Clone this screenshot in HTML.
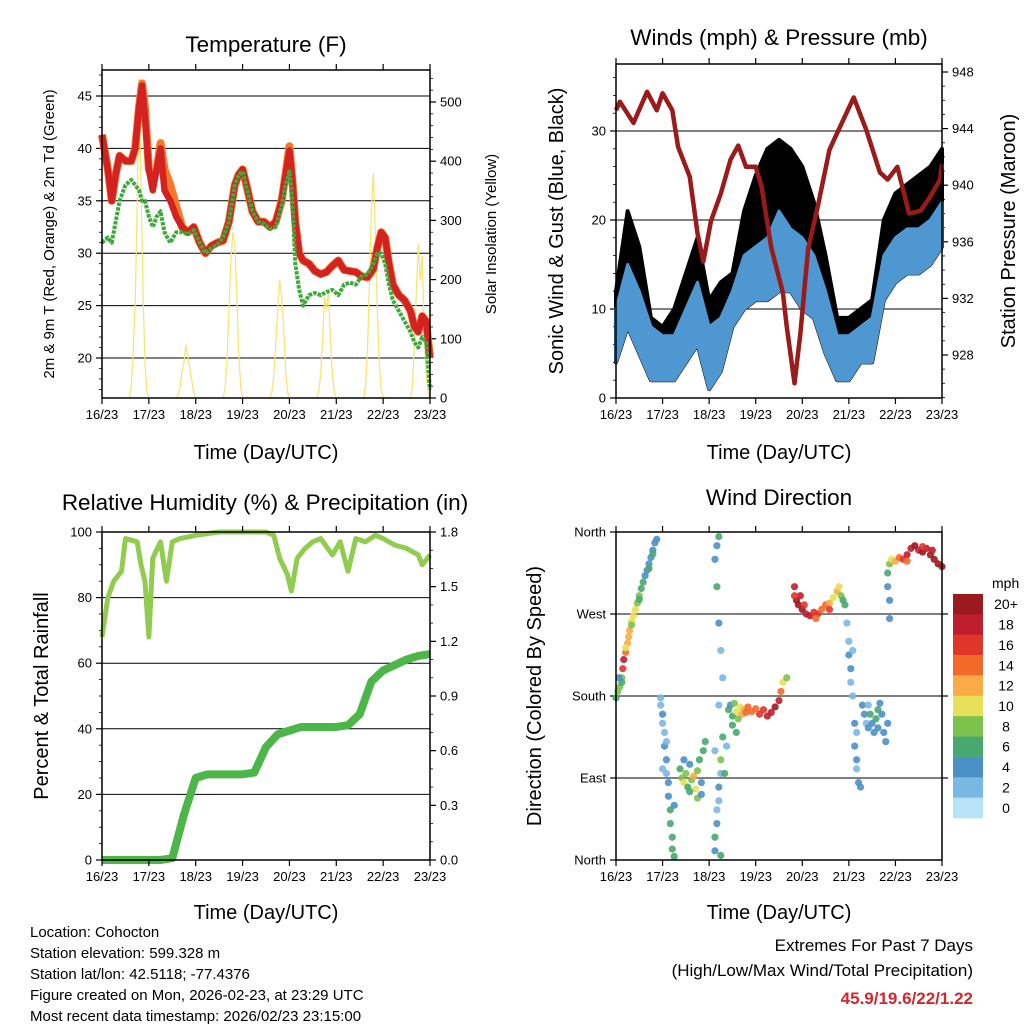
<!DOCTYPE html>
<html><head><meta charset="utf-8"><title>Cohocton station charts</title>
<style>
html,body{margin:0;padding:0;background:#fff;}
svg{display:block;font-family:"Liberation Sans",Arial,sans-serif;}
</style></head>
<body>
<svg id="root" xmlns="http://www.w3.org/2000/svg" width="1024" height="1024" viewBox="0 0 1024 1024">
<rect x="0" y="0" width="1024" height="1024" fill="#fff"/>
<text x="266" y="52" font-size="22.5" text-anchor="middle">Temperature (F)</text>
<text x="779" y="45" font-size="22.5" text-anchor="middle">Winds (mph) &amp; Pressure (mb)</text>
<text x="265" y="510" font-size="22.5" text-anchor="middle">Relative Humidity (%) &amp; Precipitation (in)</text>
<text x="779" y="505" font-size="22.5" text-anchor="middle">Wind Direction</text>
<text transform="translate(54,234) rotate(-90)" font-size="15" text-anchor="middle">2m &amp; 9m T (Red, Orange) &amp; 2m Td (Green)</text>
<text transform="translate(496,234) rotate(-90)" font-size="15" text-anchor="middle">Solar Insolation (Yellow)</text>
<text transform="translate(563,231) rotate(-90)" font-size="20" text-anchor="middle">Sonic Wind &amp; Gust (Blue, Black)</text>
<text transform="translate(1015,231) rotate(-90)" font-size="20" text-anchor="middle">Station Pressure (Maroon)</text>
<text transform="translate(48,696) rotate(-90)" font-size="20" text-anchor="middle">Percent &amp; Total Rainfall</text>
<text transform="translate(541,696) rotate(-90)" font-size="20" text-anchor="middle">Direction (Colored By Speed)</text>
<text x="266" y="459" font-size="20" text-anchor="middle">Time (Day/UTC)</text>
<text x="779" y="459" font-size="20" text-anchor="middle">Time (Day/UTC)</text>
<text x="266" y="919" font-size="20" text-anchor="middle">Time (Day/UTC)</text>
<text x="779" y="919" font-size="20" text-anchor="middle">Time (Day/UTC)</text>
<g font-size="15">
<text x="30" y="937">Location: Cohocton</text>
<text x="30" y="958">Station elevation: 599.328 m</text>
<text x="30" y="979">Station lat/lon: 42.5118; -77.4376</text>
<text x="30" y="1000">Figure created on Mon, 2026-02-23, at 23:29 UTC</text>
<text x="30" y="1021">Most recent data timestamp: 2026/02/23 23:15:00</text>
</g>
<g font-size="17" text-anchor="end">
<text x="973" y="951">Extremes For Past 7 Days</text>
<text x="973" y="976">(High/Low/Max Wind/Total Precipitation)</text>
<text x="973" y="1004" font-weight="bold" fill="#d0282c">45.9/19.6/22/1.22</text>
</g>
</svg>
<script>
// ---------------- DATA ----------------
const dayLabels = ["16/23","17/23","18/23","19/23","20/23","21/23","22/23","23/23"];
const tempTimes = [0,3,5,7,9,12,15,17,19,20.5,22,24,26,28,30,32,35,38,41,44,47,50,53,56,59,62,65,68,70,72,74,77,80,83,86,89,92,94,96,97.5,99,101,103,106,109,112,115,118,121,124,127,130,133,136,139,141,143,145,147,149,152,155,158,160,162,164,166,168];
const tempRed = [41.3,38,35,37.5,39.3,38.8,38.8,40,44,46,43,38,36,38,40,36,35,33.5,32.5,32,32.5,31,30,30.7,31,31.2,33,36.5,37.5,38,36.5,34,33,33,32.5,33,35,37.5,39.8,37,33,30,29.3,29,28.3,28,28.2,28.8,29.3,28.4,28.3,28.2,27.8,27.7,28.5,30.5,32,31.5,29,27,26,25.5,24.5,23,22.5,24,23.5,20];
const tempOrange = [41.3,38,35,37.5,39.3,38.8,38.8,40,44,46.2,44,38,37,38,40.5,38,36.5,34.5,32.5,32,32.5,31,30,30.7,31,31.2,33,36.5,37.5,38,36.5,34,33,33,32.5,33,35,37.5,40.2,37,33,30,29.3,29,28.3,28,28.2,28.8,29.3,28.4,28.3,28.2,27.8,27.7,28.5,30.5,32,31.5,29,27,26,25.5,24.5,23,22.5,24,23.5,20];
const tempDew = [31,31.5,31,33,35,36.5,37,36.5,36,35,35,33.5,32.5,33.5,34,32,31,32,32,31.8,32.2,31,30,30.5,30.8,31.5,33,36.5,37.5,37.8,36.3,34,33,32.8,32.3,32.5,34.5,36.5,37.8,35,29,26.5,25,26,26.2,26,26.3,26.5,26,27,27.2,27,27.8,28,29,30,30,29,27,25.5,24.5,23.5,22.5,21.5,21,22,21.5,17];
const solarStartHour = 14;
const solarDay0 = [0,20,80,160,320,540,360,180,60,10,0];
const solarDay1 = [0,5,20,45,60,90,70,50,30,10,0];
const solarDay2 = [0,15,60,150,230,280,260,180,80,20,0];
const solarDay3 = [0,10,40,90,150,200,170,120,50,10,0];
const solarDay4 = [0,10,40,100,170,150,180,100,40,10,0];
const solarDay5 = [0,20,80,200,320,380,280,150,60,15,0];
const solarDay6 = [0,20,90,180,260,200,240,120,40,10,0];
const windTimes = [0,6,12,18,24,30,36,42,48,54,60,66,72,78,84,90,96,102,108,114,120,126,132,138,144,150,156,162,168];
const windLow = [4,8,5,2,2,2,4,6,1,3,8,10,11,11,12,12,10,9,5,2,2,4,4,11,13,14,14,15,17];
const windHigh = [10,15,12,8,7,7,10,13,8,9,12,16,17,18,21,19,18,16,12,7,7,8,9,16,18,19,19,20,22];
const gustHigh = [12,21,17,9,8,10,14,18,11,13,14,21,25,28,29,28,26,22,16,9,9,10,11,20,23,24,25,26,28];
const pressTimes = [0,2,9,16,21,24,29,32,38,42,45,49,54,59,63,67,72,75,80,86,88,92,95,99,104,110,113,122.5,129,136,140,145,151,157,162,167,168];
const pressValues = [945.3,945.9,944.4,946.6,945.3,946.5,945.3,942.7,940.6,936.6,934.6,937.5,939.4,941.8,942.8,941.3,941.3,939.9,935.6,932.4,930,926,929.5,935.5,938.5,942.5,943.4,946.2,943.9,940.9,940.4,941.3,938,938.2,939.2,940.4,941.5];
const rhTimes = [0,3,6,10,12,18,20,22,24,26,30,33,36,40,48,60,72,84,88,91,95,97,100,104,108,112,118,122,126,130,135,140,144,150,156,162,164,168];
const rhValues = [68,80,85,88,98,97,90,85,68,92,97,85,97,98,99,100,100,100,99,92,87,82,92,95,97,98,93,97,88,98,97,99,98,96,95,93,90,93];
const precipTimes = [0,6,12,18,24,30,36,42,48,54,60,66,72,78,84,90,96,102,108,114,120,126,132,138,144,150,156,162,168];
const precipValues = [0,0,0,0,0,0,0.01,0.25,0.45,0.47,0.47,0.47,0.47,0.48,0.62,0.69,0.71,0.73,0.73,0.73,0.73,0.74,0.80,0.98,1.04,1.07,1.10,1.12,1.13];
const dirTimes = [0,1,2,3,3.5,4,5,6,6.5,7,8,9,10,11,12,13,14,15,16,17,18,19,20,21,3,5,8,12,1.5,17,19,
 23,23,24,24,25,25,26,26,27,27,28,28,29,29,30,24,26,30,
 33,34,35,36,37,38,39,40,41,42,43,44,45,46,38,42,35,44,
 51,51,52,52,53,53,54,54,55,55,54,53,52,51,52,53,54,51,53,
 58,59,60,61,62,63,64,65,66,67,68,70,72,74,76,78,80,82,84,85,86,60,62,88,57,56,
 92,93,94,95,96,98,100,102,104,106,108,110,112,114,115,116,117,118,92,97,103,110,
 119,120,120,121,121,122,123,123,124,124,125,126,122,124,
 127,128,129,130,131,132,133,134,135,136,137,138,139,140,130,135,
 140,140,141,142,144,146,148,150,152,154,156,158,160,162,164,166,168,141,141,150,158,163];
const dirDegrees = [178,185,190,200,210,220,228,238,245,252,262,268,275,282,290,298,305,312,318,325,332,340,348,352,195,233,258,286,200,320,336,
 178,170,160,150,140,125,110,95,85,70,55,40,25,12,4,100,130,60,
 100,90,85,95,80,105,88,92,78,98,110,85,120,130,75,68,110,72,
 10,25,40,55,65,80,95,110,135,200,230,260,300,330,345,355,5,120,170,
 165,170,158,172,163,155,168,160,165,162,168,163,166,160,165,158,162,168,175,185,195,148,140,200,125,95,
 300,285,280,290,275,270,268,272,270,275,280,282,288,295,300,290,285,280,290,280,265,275,
 260,240,225,210,195,180,150,125,110,100,85,80,230,140,
 170,160,150,145,160,150,140,155,165,172,160,140,130,150,170,145,
 300,315,325,330,328,332,330,335,342,345,340,338,342,335,330,325,322,285,265,328,344,340];
const dirSpeeds = [6,8,8,8,16,18,14,12,12,12,10,10,10,8,8,6,6,4,4,4,4,4,4,4,6,10,8,6,4,6,6,
 2,2,4,2,2,4,4,2,4,4,6,6,6,6,6,2,2,4,
 6,8,10,8,6,4,8,12,10,8,6,4,6,6,6,8,4,4,
 4,6,4,2,2,4,2,8,6,2,2,4,6,4,4,6,6,2,2,
 6,4,6,8,10,8,10,12,12,14,14,14,14,16,16,18,18,20,18,14,10,6,6,8,2,6,
 18,20,20,18,20,18,18,16,16,14,14,12,10,12,10,8,6,6,16,16,14,16,
 2,2,4,4,2,2,4,4,4,2,4,4,2,2,
 4,4,2,4,6,4,4,6,6,4,4,4,4,4,2,4,
 4,6,8,10,12,14,16,18,18,20,18,20,18,20,20,20,20,4,4,14,16,18];
const speedLabels = ["20+","18","16","14","12","10","8","6","4","2","0"];
const speedColors = ["#b7e2f7","#7ab8e4","#4a90c7","#48a96e","#7dc24c","#e8e05a","#f8ab46","#f26a2a","#e0352b","#be1e2d","#9b1a1e"];

// ---------------- HELPERS ----------------
const NS = "http://www.w3.org/2000/svg";
const root = document.getElementById("root");
function mk(tag, attrs, parent) {
  const e = document.createElementNS(NS, tag);
  for (const k in attrs) e.setAttribute(k, attrs[k]);
  (parent || root).appendChild(e);
  return e;
}
function lin(d0, d1, r0, r1) { return v => r0 + (v - d0) / (d1 - d0) * (r1 - r0); }
function pathFrom(xs, ys, fx, fy) {
  let d = "";
  for (let i = 0; i < xs.length; i++) d += (i ? "L" : "M") + fx(xs[i]).toFixed(2) + "," + fy(ys[i]).toFixed(2);
  return d;
}
function bandFrom(xs, lo, hi, fx, fy) {
  let d = "";
  for (let i = 0; i < xs.length; i++) d += (i ? "L" : "M") + fx(xs[i]).toFixed(2) + "," + fy(hi[i]).toFixed(2);
  for (let i = xs.length - 1; i >= 0; i--) d += "L" + fx(xs[i]).toFixed(2) + "," + fy(lo[i]).toFixed(2);
  return d + "Z";
}
function frame(name, x0, y0, x1, y1) {
  const r = mk("rect", {x: x0, y: y0, width: x1 - x0, height: y1 - y0, fill: "none", stroke: "#000", "stroke-width": 1.5});
  
  
}
function xAxis(name, fx, y0, y1) {
  const g = mk("g", {});
  
  
  for (let d = 0; d < dayLabels.length; d++) {
    const x = fx(d * 24);
    mk("line", {x1: x, x2: x, y1: y1, y2: y1 + 6, stroke: "#000", "stroke-width": 1.2}, g);
    mk("line", {x1: x, x2: x, y1: y0, y2: y0 - 6, stroke: "#000", "stroke-width": 1.2}, g);
    const t = mk("text", {x: x, y: y1 + 21, "font-size": 13, "text-anchor": "middle"}, g);
    t.textContent = dayLabels[d];
    
    
  }
}
function yAxis(name, fy, x0, x1, ticks, labels, minorStep, lo, hi, side, grid, x0grid, x1grid) {
  const g = mk("g", {});
  
  
  const ax = side === "left" ? x0 : x1, dir = side === "left" ? -1 : 1;
  if (minorStep) {
    for (let v = lo; v <= hi + 1e-9; v += minorStep) {
      const y = fy(v);
      mk("line", {x1: ax, x2: ax + dir * 3, y1: y, y2: y, stroke: "#000", "stroke-width": 0.8}, g);
    }
  }
  for (let i = 0; i < ticks.length; i++) {
    const y = fy(ticks[i]);
    mk("line", {x1: ax, x2: ax + dir * 6, y1: y, y2: y, stroke: "#000", "stroke-width": 1.2}, g);
    if (grid) mk("line", {x1: x0grid, x2: x1grid, y1: y, y2: y, stroke: "#000", "stroke-width": 1}, g);
    const t = mk("text", {x: ax + dir * 10, y: y + 4.5, "font-size": 13, "text-anchor": side === "left" ? "end" : "start"}, g);
    t.textContent = labels[i];
    
    
  }
}

// ---------------- PANEL 1: TEMPERATURE ----------------
(function(){
  const X0 = 102, X1 = 430, Y0 = 70, Y1 = 398;
  const fx = lin(0, 168, X0, X1);
  const fy = lin(20, 45, 358, 96);
  const fs = lin(0, 500, 398, 102);
  yAxis("temperature", fy, X0, X1, [20,25,30,35,40,45], ["20","25","30","35","40","45"], 1, 17, 47, "left", true, X0, X1);
  yAxis("solar", fs, X0, X1, [0,100,200,300,400,500], ["0","100","200","300","400","500"], 20, 0, 540, "right", false);
  const days = [solarDay0, solarDay1, solarDay2, solarDay3, solarDay4, solarDay5, solarDay6];
  const sg = mk("g", {});
  
  
  for (let k = 0; k < days.length; k++) {
    const ts = days[k].map((v, i) => 24 * k + solarStartHour + i);
    const p = mk("path", {d: pathFrom(ts, days[k], fx, fs), fill: "none", stroke: "#f9e36a", "stroke-width": 1.2}, sg);
    
    
  }
  const po = mk("path", {d: pathFrom(tempTimes, tempOrange, fx, fy), fill: "none", stroke: "#f47a2a", "stroke-width": 8, "stroke-linejoin": "round"});
  
  
  const pr = mk("path", {d: pathFrom(tempTimes, tempRed, fx, fy), fill: "none", stroke: "#d42222", "stroke-width": 6.5, "stroke-linejoin": "round"});
  
  
  const pg = mk("path", {d: pathFrom(tempTimes, tempDew, fx, fy), fill: "none", stroke: "#3eaa3a", "stroke-width": 4, "stroke-dasharray": "3.5 1.2", "stroke-linejoin": "round"});
  
  
  xAxis("temperature", fx, Y0, Y1);
  frame("temperature", X0, Y0, X1, Y1);
})();

// ---------------- PANEL 2: WINDS ----------------
(function(){
  const X0 = 616, X1 = 942, Y0 = 64, Y1 = 398;
  const fx = lin(0, 168, X0, X1);
  const fy = lin(0, 30, 398, 131);
  const fp = lin(928, 948, 355, 72);
  yAxis("wind", fy, X0, X1, [0,10,20,30], ["0","10","20","30"], 2, 0, 36, "left", true, X0, X1);
  yAxis("pressure", fp, X0, X1, [928,932,936,940,944,948], ["928","932","936","940","944","948"], 1, 925, 948, "right", false);
  const gb = mk("path", {d: bandFrom(windTimes, windLow, gustHigh, fx, fy), fill: "#000", stroke: "#000", "stroke-width": 4, "stroke-linejoin": "round"});
  
  
  const wb = mk("path", {d: bandFrom(windTimes, windLow, windHigh, fx, fy), fill: "#4f97d1", stroke: "#4f97d1", "stroke-width": 3, "stroke-linejoin": "round"});
  
  
  const pp = mk("path", {d: pathFrom(pressTimes, pressValues, fx, fp), fill: "none", stroke: "#9b1a1a", "stroke-width": 4.5, "stroke-linejoin": "round"});
  
  
  xAxis("winds", fx, Y0, Y1);
  frame("winds", X0, Y0, X1, Y1);
})();

// ---------------- PANEL 3: HUMIDITY / PRECIP ----------------
(function(){
  const X0 = 102, X1 = 430, Y0 = 532, Y1 = 860;
  const fx = lin(0, 168, X0, X1);
  const fy = lin(0, 100, 860, 532);
  const fr = lin(0, 1.8, 860, 532);
  yAxis("humidity", fy, X0, X1, [0,20,40,60,80,100], ["0","20","40","60","80","100"], 5, 0, 100, "left", true, X0, X1);
  yAxis("rainfall", fr, X0, X1, [0,0.3,0.6,0.9,1.2,1.5,1.8], ["0.0","0.3","0.6","0.9","1.2","1.5","1.8"], 0.1, 0, 1.8, "right", false);
  const rh = mk("path", {d: pathFrom(rhTimes, rhValues, fx, fy), fill: "none", stroke: "#92cc4e", "stroke-width": 5, "stroke-linejoin": "round"});
  
  
  const pc = mk("path", {d: pathFrom(precipTimes, precipValues, fx, fr), fill: "none", stroke: "#4cb748", "stroke-width": 8, "stroke-linejoin": "round"});
  
  
  xAxis("humidity", fx, Y0, Y1);
  frame("humidity", X0, Y0, X1, Y1);
})();

// ---------------- PANEL 4: WIND DIRECTION ----------------
(function(){
  const X0 = 616, X1 = 942, Y0 = 532, Y1 = 860;
  const fx = lin(0, 168, X0, X1);
  const fy = lin(0, 360, 860, 532);
  yAxis("direction", fy, X0, X1, [0,90,180,270,360], ["North","East","South","West","North"], 0, 0, 360, "left", false);
  const g = mk("g", {});
  
  
  [90,180,270].forEach(v => mk("line", {x1: X0, x2: X1, y1: fy(v), y2: fy(v), stroke: "#000", "stroke-width": 1}, g));
  [90,180,270].forEach(v => mk("line", {x1: X1, x2: X1 + 6, y1: fy(v), y2: fy(v), stroke: "#000", "stroke-width": 1.2}, g));
  const dg = mk("g", {});
  
  
  for (let i = 0; i < dirTimes.length; i++) {
    const bin = Math.min(10, Math.floor(dirSpeeds[i] / 2));
    const c = mk("circle", {cx: fx(dirTimes[i]).toFixed(2), cy: fy(dirDegrees[i]).toFixed(2), r: 3.6, fill: speedColors[bin], "fill-opacity": 0.9}, dg);
    
    
  }
  xAxis("direction", fx, Y0, Y1);
  frame("direction", X0, Y0, X1, Y1);
  const lg = mk("g", {});
  
  
  const mt = mk("text", {x: 992, y: 588, "font-size": 14}, lg);
  mt.textContent = "mph";
  
  
  const bh = 224 / speedLabels.length;
  for (let i = 0; i < speedLabels.length; i++) {
    const y = 594 + i * bh;
    const r = mk("rect", {x: 953, y: y.toFixed(2), width: 30, height: (bh + 0.3).toFixed(2), fill: speedColors[speedLabels.length - 1 - i]}, lg);
    
    
    const t = mk("text", {x: 1006, y: (y + bh / 2 + 5).toFixed(2), "font-size": 14, "text-anchor": "middle"}, lg);
    t.textContent = speedLabels[i];
    
    
  }
})();
</script>
</body></html>
